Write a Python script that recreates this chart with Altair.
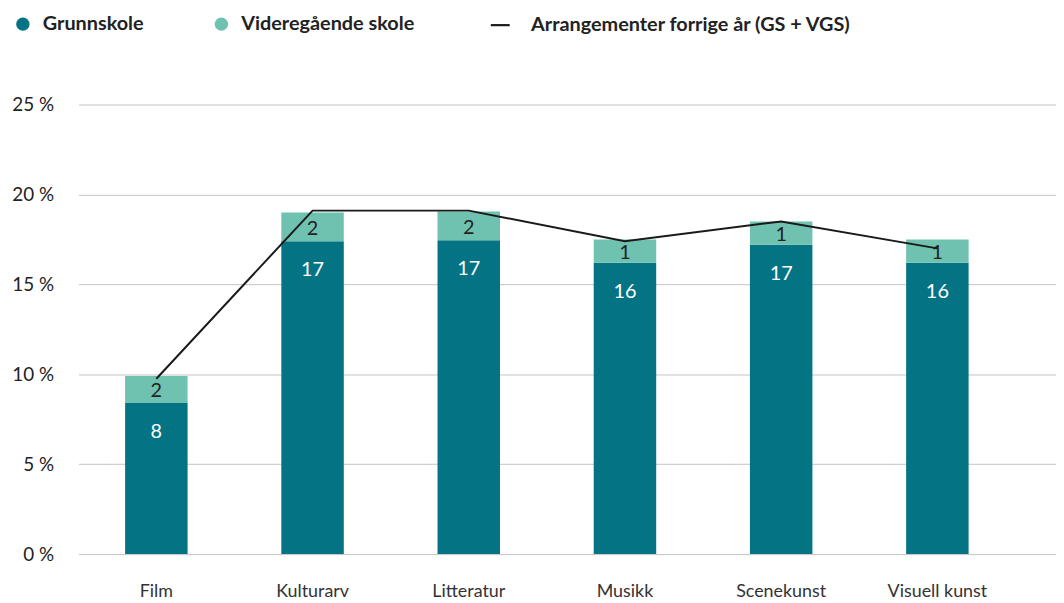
import altair as alt
import pandas as pd

categories = ["Film", "Kulturarv", "Litteratur", "Musikk", "Scenekunst", "Visuell kunst"]
grunnskole = [8.4, 17.4, 17.45, 16.2, 17.2, 16.2]
videregaende = [1.5, 1.6, 1.6, 1.3, 1.3, 1.3]
forrige_aar = [9.75, 19.1, 19.1, 17.4, 18.5, 17.0]
series_names = ["Grunnskole", "Videregående skole"]
line_name = "Arrangementer forrige år (GS + VGS)"
y_ticks = [0, 5, 10, 15, 20, 25]

FONT = "Lato"
DARK = "#047383"
LIGHT = "#70c2b0"

rows = []
for i, c in enumerate(categories):
    rows.append({"cat": c, "series": series_names[0], "value": grunnskole[i], "ord": 0,
                 "top": grunnskole[i], "mid": grunnskole[i] / 2})
    rows.append({"cat": c, "series": series_names[1], "value": videregaende[i], "ord": 1,
                 "top": grunnskole[i] + videregaende[i],
                 "mid": grunnskole[i] + videregaende[i] / 2})
bars_df = pd.DataFrame(rows)
line_df = pd.DataFrame({"cat": categories, "value": forrige_aar, "series": [line_name] * len(categories)})

x_enc = alt.X("cat:N", sort=categories, title=None,
              scale=alt.Scale(paddingInner=0.6, paddingOuter=0.429, align=0.348),
              axis=alt.Axis(labelAngle=0, ticks=False, domain=False, labelPadding=29,
                            labelFont=FONT, labelFontSize=18, labelColor="#333333"))

y_scale = alt.Scale(domain=[0, 25], nice=False, zero=True)

bars = alt.Chart(bars_df).mark_bar().encode(
    x=x_enc,
    y=alt.Y("value:Q", stack="zero", scale=y_scale, title=None,
            axis=alt.Axis(values=y_ticks, labelExpr="datum.value + ' %'", domain=False, ticks=False,
                          labelPadding=25, labelFont=FONT, labelFontSize=19, labelColor="#222222",
                          gridColor="#c4c4c4", gridWidth=1)),
    fill=alt.Fill("series:N", scale=alt.Scale(domain=series_names, range=[DARK, LIGHT]),
                  legend=alt.Legend(orient="none", direction="horizontal", legendX=-66, legendY=-91,
                                    title=None, symbolType="circle", symbolSize=180,
                                    symbolStrokeWidth=0, labelFont=FONT, labelFontWeight="bold",
                                    labelFontSize=20, labelColor="#222222", columnPadding=68,
                                    labelOffset=10, labelLimit=500)),
    order=alt.Order("ord:Q"),
)

gs_labels = alt.Chart(bars_df).transform_filter(alt.datum.ord == 0).mark_text(
    font=FONT, fontSize=20, color="white", baseline="middle", dy=29
).encode(
    x=alt.X("cat:N", sort=categories),
    y=alt.Y("top:Q", scale=y_scale),
    text=alt.Text("value:Q", format=".0f"),
)

vgs_labels = alt.Chart(bars_df).transform_filter(alt.datum.ord == 1).mark_text(
    font=FONT, fontSize=20, color="#222222", baseline="middle", dy=2
).encode(
    x=alt.X("cat:N", sort=categories),
    y=alt.Y("mid:Q", scale=y_scale),
    text=alt.Text("value:Q", format=".0f"),
)

line = alt.Chart(line_df).mark_line(strokeWidth=2).encode(
    x=alt.X("cat:N", sort=categories),
    y=alt.Y("value:Q", scale=y_scale),
    stroke=alt.Stroke("series:N", scale=alt.Scale(domain=[line_name], range=["#1a1a1a"]),
                      legend=alt.Legend(orient="none", legendX=414, legendY=-91, title=None,
                                        symbolType="stroke", symbolSize=361, symbolStrokeWidth=2.2,
                                        labelFont=FONT, labelFontWeight="bold", labelFontSize=20,
                                        labelColor="#222222", labelOffset=20, labelLimit=600)),
)

chart = alt.layer(bars, gs_labels, vgs_labels, line).properties(
    width=985, height=453,
    background="white",
    autosize=alt.AutoSizeParams(type="none"),
    padding={"left": 71, "top": 95, "right": 0, "bottom": 47},
).configure_view(stroke=None).configure_axis(domain=False, ticks=False)

chart.save("out.html", embed_options={"renderer": "svg", "actions": False})
